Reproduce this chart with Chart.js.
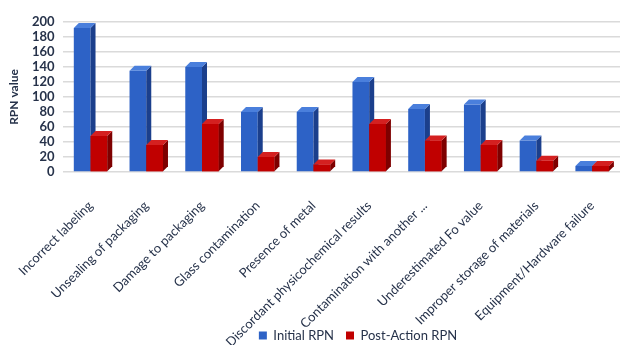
<!DOCTYPE html>
<html>
<head>
<meta charset="utf-8">
<script src="https://cdn.jsdelivr.net/npm/chart.js@4/dist/chart.umd.min.js"></script>
<style>
  html, body { margin: 0; padding: 0; background: #ffffff; }
  #wrap { width: 628px; height: 345px; position: relative; }
</style>
</head>
<body>
<div id="wrap"><canvas id="c" width="628" height="345"></canvas></div>
<script>
const categories = [
  "Incorrect labeling",
  "Unsealing of packaging",
  "Damage to packaging",
  "Glass contamination",
  "Presence of metal",
  "Discordant physicochemical results",
  "Contamination with another ...",
  "Underestimated Fo value",
  "Improper storage of materials",
  "Equipment/Hardware failure"
];
const initialRPN = [192, 135, 140, 80, 80, 120, 84, 90, 42, 8];
const postActionRPN = [48, 36, 64, 20, 10, 64, 42, 36, 15, 8];
const yTicks = [0, 20, 40, 60, 80, 100, 120, 140, 160, 180, 200];

const FONT = "Lato, 'Open Sans', sans-serif";
const TEXT = "#26324a";

const faceColors = [
  { side: "#1b3f8c", top: "#4a7fdc" },
  { side: "#7e0000", top: "#d42020" }
];

const bar3d = {
  id: "bar3d",
  afterLayout(chart) {
    if (chart.legend) {
      chart.legend.left += 48;
      chart.legend.right += 48;
    }
  },
  afterDatasetsDraw(chart) {
    const ctx = chart.ctx;
    const d = 5;
    chart.data.datasets.forEach((ds, di) => {
      const meta = chart.getDatasetMeta(di);
      meta.data.forEach((bar) => {
        const p = bar.getProps(["x", "y", "base", "width"], true);
        const l = p.x - p.width / 2, r = p.x + p.width / 2;
        if (di > 0) bar.draw(ctx);
        ctx.save();
        ctx.fillStyle = faceColors[di].side;
        ctx.beginPath();
        ctx.moveTo(r, p.base);
        ctx.lineTo(r, p.y);
        ctx.lineTo(r + d, p.y - d);
        ctx.lineTo(r + d, p.base - d);
        ctx.closePath();
        ctx.fill();
        ctx.fillStyle = faceColors[di].top;
        ctx.beginPath();
        ctx.moveTo(l, p.y);
        ctx.lineTo(r, p.y);
        ctx.lineTo(r + d, p.y - d);
        ctx.lineTo(l + d, p.y - d);
        ctx.closePath();
        ctx.fill();
        ctx.restore();
      });
    });
  }
};

new Chart(document.getElementById("c"), {
  type: "bar",
  data: {
    labels: categories,
    datasets: [
      {
        label: "Initial RPN",
        data: initialRPN,
        backgroundColor: "#2d62c6",
        borderWidth: 0,
        categoryPercentage: 0.6,
        barPercentage: 1.0
      },
      {
        label: "Post-Action RPN",
        data: postActionRPN,
        backgroundColor: "#c00000",
        borderWidth: 0,
        categoryPercentage: 0.6,
        barPercentage: 1.0
      }
    ]
  },
  options: {
    responsive: false,
    animation: false,
    devicePixelRatio: 1,
    layout: { padding: { top: 22, right: 8, left: 0, bottom: -7 } },
    plugins: {
      legend: {
        position: "bottom",
        labels: {
          font: { family: FONT, size: 13 },
          color: TEXT,
          boxWidth: 8,
          boxHeight: 8,
          padding: 12
        }
      },
      tooltip: { enabled: false }
    },
    scales: {
      x: {
        grid: { display: false },
        border: { display: false },
        ticks: {
          font: { family: FONT, size: 13 },
          color: TEXT,
          minRotation: 45,
          maxRotation: 45,
          padding: 18,
          autoSkip: false
        },
        afterFit(axis) {
          axis.height = 145;
          axis._computeLabelArea = () => undefined;
        }
      },
      y: {
        min: 0,
        max: 200,
        afterBuildTicks(axis) { axis.ticks = yTicks.map(v => ({ value: v })); },
        grid: { color: "#dadada", lineWidth: 1.5, drawTicks: false },
        border: { display: false },
        ticks: {
          font: { family: FONT, size: 13, weight: "bold" },
          color: TEXT,
          padding: 8,
          autoSkip: false
        },
        title: {
          display: true,
          text: "RPN value",
          font: { family: FONT, size: 12, weight: "bold" },
          color: TEXT,
          padding: 3
        }
      }
    }
  },
  plugins: [bar3d]
});
</script>
</body>
</html>
